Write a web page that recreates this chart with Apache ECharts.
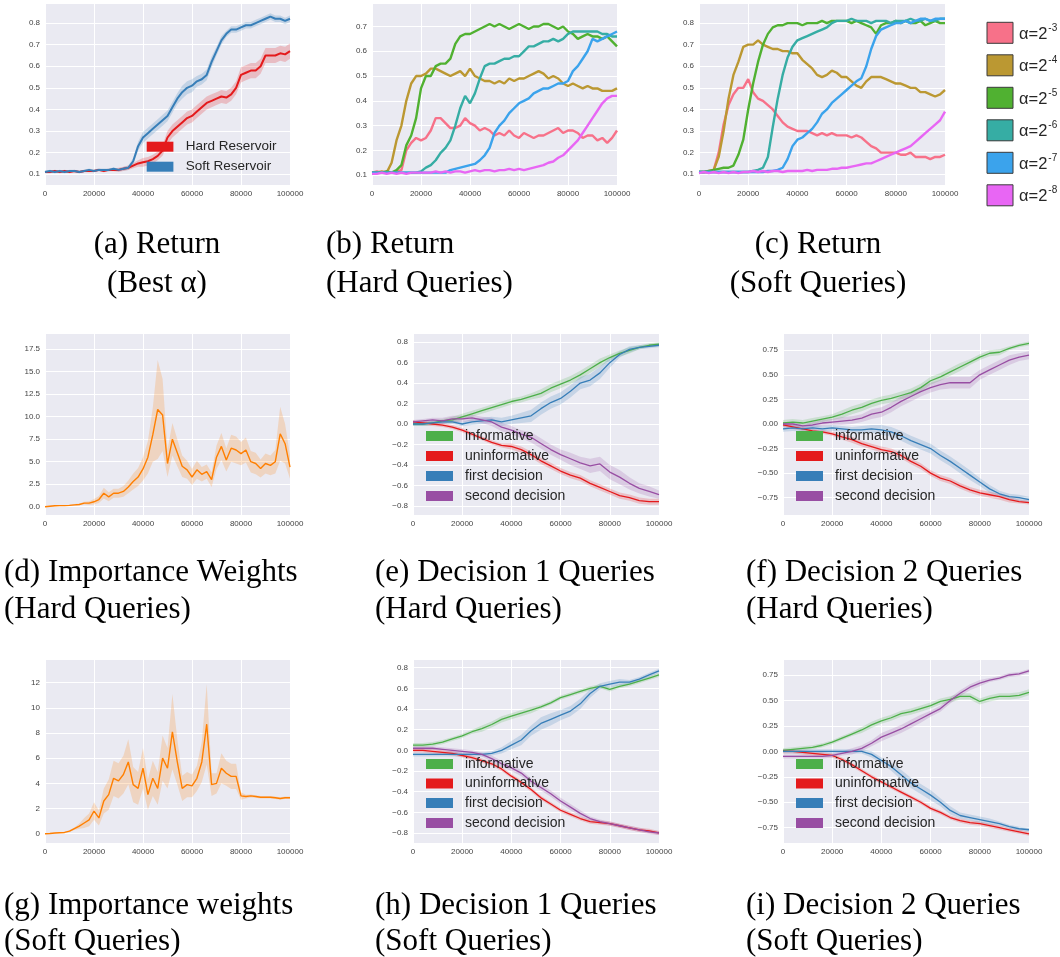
<!DOCTYPE html>
<html><head><meta charset="utf-8">
<script src="https://cdn.jsdelivr.net/npm/echarts@6/dist/echarts.min.js"></script>
<style>html,body{margin:0;padding:0;background:#fff}#c{width:1060px;height:957px}</style>
</head><body><div id="c"></div>
<script>
// ---------- x steps ----------
const stepsFine = [0,2000,4000,6000,8000,10000,12000,14000,16000,18000,20000,22000,24000,26000,28000,30000,32000,34000,36000,38000,40000,42000,44000,46000,48000,50000,52000,54000,56000,58000,60000,62000,64000,66000,68000,70000,72000,74000,76000,78000,80000,82000,84000,86000,88000,90000,92000,94000,96000,98000,100000];
const stepsCoarse = [0,4000,8000,12000,16000,20000,24000,28000,32000,36000,40000,44000,48000,52000,56000,60000,64000,68000,72000,76000,80000,84000,88000,92000,96000,100000];
const xTicks = [0,20000,40000,60000,80000,100000];

// ---------- (a) Return, best alpha ----------
const hardReservoir = [0.11,0.11,0.115,0.11,0.115,0.11,0.115,0.11,0.115,0.115,0.115,0.12,0.115,0.12,0.12,0.12,0.125,0.13,0.14,0.15,0.155,0.16,0.17,0.185,0.21,0.27,0.3,0.32,0.34,0.36,0.37,0.39,0.41,0.43,0.44,0.45,0.46,0.455,0.47,0.5,0.56,0.57,0.58,0.58,0.6,0.65,0.65,0.65,0.66,0.655,0.67];
const hardReservoirSpread = [0.006,0.006,0.006,0.006,0.006,0.006,0.006,0.006,0.006,0.006,0.006,0.006,0.006,0.006,0.006,0.01,0.01,0.01,0.012,0.015,0.02,0.02,0.02,0.02,0.025,0.03,0.03,0.03,0.03,0.03,0.03,0.03,0.03,0.03,0.03,0.03,0.03,0.03,0.03,0.03,0.035,0.035,0.035,0.035,0.035,0.035,0.035,0.035,0.035,0.035,0.035];
const softReservoir = [0.11,0.115,0.11,0.115,0.11,0.115,0.115,0.11,0.115,0.12,0.115,0.12,0.12,0.12,0.125,0.12,0.125,0.13,0.16,0.23,0.27,0.29,0.31,0.33,0.35,0.37,0.41,0.45,0.48,0.5,0.51,0.53,0.54,0.56,0.62,0.67,0.72,0.75,0.77,0.77,0.78,0.79,0.79,0.8,0.81,0.82,0.83,0.82,0.82,0.81,0.82];
const softReservoirSpread = [0.006,0.006,0.006,0.006,0.006,0.006,0.006,0.006,0.006,0.006,0.006,0.006,0.006,0.006,0.006,0.006,0.008,0.01,0.015,0.02,0.025,0.025,0.025,0.025,0.025,0.025,0.025,0.025,0.03,0.03,0.03,0.025,0.025,0.025,0.025,0.02,0.02,0.015,0.015,0.015,0.015,0.015,0.015,0.015,0.015,0.015,0.015,0.015,0.015,0.015,0.015];

// ---------- (b) Return, hard queries ----------
const hardA3 = [0.11,0.115,0.11,0.115,0.11,0.115,0.12,0.2,0.23,0.25,0.24,0.25,0.28,0.33,0.33,0.31,0.29,0.29,0.3,0.33,0.31,0.3,0.28,0.29,0.28,0.26,0.27,0.26,0.28,0.26,0.25,0.27,0.26,0.25,0.26,0.26,0.27,0.28,0.29,0.27,0.28,0.28,0.27,0.25,0.26,0.26,0.24,0.25,0.23,0.25,0.28];
const hardA4 = [0.11,0.11,0.115,0.11,0.15,0.24,0.3,0.4,0.47,0.5,0.5,0.51,0.53,0.53,0.52,0.51,0.5,0.51,0.52,0.5,0.53,0.5,0.49,0.48,0.48,0.47,0.48,0.47,0.49,0.48,0.49,0.49,0.5,0.51,0.52,0.51,0.49,0.5,0.49,0.47,0.46,0.47,0.46,0.45,0.46,0.45,0.45,0.44,0.44,0.44,0.45];
const hardA5 = [0.11,0.11,0.11,0.115,0.11,0.12,0.14,0.22,0.26,0.33,0.45,0.5,0.5,0.54,0.55,0.55,0.57,0.63,0.66,0.67,0.67,0.68,0.69,0.7,0.71,0.7,0.71,0.7,0.69,0.7,0.71,0.7,0.69,0.7,0.7,0.71,0.71,0.7,0.69,0.7,0.68,0.67,0.65,0.66,0.67,0.66,0.66,0.65,0.66,0.64,0.62];
const hardA6 = [0.11,0.11,0.11,0.11,0.11,0.11,0.11,0.11,0.11,0.11,0.115,0.13,0.14,0.16,0.19,0.21,0.24,0.3,0.37,0.42,0.39,0.43,0.49,0.54,0.55,0.55,0.56,0.57,0.57,0.58,0.58,0.6,0.62,0.62,0.63,0.64,0.64,0.65,0.64,0.65,0.67,0.68,0.68,0.68,0.68,0.68,0.68,0.67,0.67,0.66,0.66];
const hardA7 = [0.11,0.11,0.11,0.11,0.11,0.11,0.11,0.11,0.11,0.11,0.11,0.11,0.11,0.11,0.11,0.11,0.12,0.125,0.13,0.135,0.14,0.145,0.16,0.18,0.21,0.27,0.3,0.32,0.35,0.37,0.39,0.4,0.41,0.43,0.44,0.45,0.45,0.46,0.47,0.47,0.48,0.52,0.54,0.57,0.6,0.65,0.64,0.65,0.66,0.67,0.68];
const hardA8 = [0.105,0.105,0.11,0.105,0.11,0.105,0.11,0.105,0.11,0.11,0.11,0.11,0.11,0.115,0.11,0.115,0.11,0.115,0.115,0.11,0.115,0.12,0.115,0.12,0.12,0.115,0.12,0.12,0.125,0.12,0.125,0.12,0.125,0.13,0.135,0.14,0.15,0.155,0.17,0.18,0.2,0.22,0.24,0.27,0.3,0.33,0.36,0.39,0.41,0.42,0.42];

// ---------- (c) Return, soft queries ----------
const softA3 = [0.11,0.11,0.115,0.12,0.2,0.33,0.42,0.47,0.5,0.5,0.54,0.48,0.45,0.44,0.42,0.4,0.37,0.34,0.32,0.31,0.3,0.3,0.3,0.29,0.28,0.29,0.28,0.29,0.28,0.28,0.28,0.27,0.28,0.27,0.25,0.23,0.22,0.2,0.2,0.2,0.2,0.19,0.19,0.2,0.18,0.18,0.18,0.17,0.18,0.18,0.19];
const softA4 = [0.11,0.11,0.11,0.12,0.18,0.3,0.45,0.56,0.62,0.69,0.7,0.7,0.72,0.7,0.69,0.68,0.68,0.67,0.67,0.66,0.66,0.63,0.61,0.59,0.56,0.55,0.56,0.58,0.57,0.55,0.55,0.53,0.51,0.5,0.53,0.55,0.55,0.55,0.54,0.53,0.52,0.52,0.51,0.5,0.5,0.48,0.48,0.47,0.46,0.47,0.49];
const softA5 = [0.11,0.11,0.115,0.12,0.125,0.13,0.13,0.14,0.19,0.26,0.4,0.52,0.62,0.7,0.75,0.78,0.79,0.79,0.8,0.8,0.8,0.79,0.8,0.8,0.8,0.81,0.8,0.81,0.81,0.81,0.81,0.8,0.81,0.8,0.79,0.78,0.75,0.79,0.8,0.8,0.81,0.8,0.81,0.8,0.8,0.81,0.79,0.8,0.81,0.8,0.8];
const softA6 = [0.11,0.11,0.11,0.11,0.11,0.11,0.11,0.11,0.11,0.11,0.11,0.115,0.12,0.13,0.18,0.32,0.45,0.56,0.64,0.69,0.72,0.73,0.74,0.75,0.76,0.77,0.78,0.8,0.81,0.81,0.81,0.82,0.81,0.81,0.81,0.8,0.81,0.81,0.81,0.8,0.81,0.81,0.81,0.82,0.81,0.81,0.82,0.81,0.81,0.82,0.82];
const softA7 = [0.11,0.11,0.11,0.11,0.11,0.11,0.11,0.11,0.11,0.11,0.11,0.11,0.11,0.11,0.115,0.115,0.12,0.13,0.17,0.23,0.26,0.27,0.29,0.31,0.34,0.38,0.4,0.43,0.45,0.47,0.49,0.51,0.53,0.545,0.6,0.68,0.74,0.77,0.78,0.79,0.8,0.8,0.81,0.8,0.81,0.82,0.82,0.81,0.82,0.82,0.82];
const softA8 = [0.105,0.11,0.105,0.11,0.105,0.11,0.105,0.11,0.105,0.11,0.11,0.115,0.11,0.115,0.11,0.115,0.115,0.11,0.115,0.115,0.115,0.115,0.12,0.115,0.12,0.12,0.12,0.125,0.125,0.13,0.13,0.135,0.14,0.145,0.15,0.15,0.16,0.17,0.18,0.19,0.2,0.21,0.22,0.23,0.25,0.27,0.29,0.31,0.33,0.35,0.39];

// ---------- (d) Importance weights, hard ----------
const weightsHard = [0,0.05,0.1,0.12,0.12,0.15,0.2,0.25,0.4,0.4,0.55,0.8,1.5,1.1,1.5,1.5,1.7,2.2,2.8,3.3,4.2,5.5,8.0,10.8,10.2,4.8,7.5,6.0,4.5,4.1,3.3,4.1,3.6,3.9,3.0,5.5,6.7,5.2,6.5,6.3,5.9,6.3,5.0,4.8,4.25,4.8,4.6,5.0,8.1,7.0,4.4];
const weightsHardSpread = [0.05,0.05,0.05,0.05,0.05,0.08,0.1,0.1,0.15,0.2,0.3,0.4,0.6,0.5,0.5,0.5,0.6,0.7,0.9,1.0,1.3,1.8,3.0,5.5,4.0,1.5,1.8,1.5,1.2,1.0,0.9,1.0,0.8,0.8,0.8,1.3,1.5,1.3,1.5,1.5,1.3,1.4,1.2,1.2,1.0,1.1,1.1,1.3,3.0,2.2,1.3];

// ---------- (g) Importance weights, soft ----------
const weightsSoft = [0,0.02,0.05,0.08,0.1,0.2,0.4,0.6,0.85,1.1,1.8,1.25,2.6,3.1,4.4,4.2,4.7,5.7,3.9,3.6,5.2,3.1,4.4,3.6,6.0,5.2,8.1,5.7,3.6,3.9,3.8,4.4,5.7,8.7,3.9,4.0,5.2,4.8,4.55,4.55,3.0,2.95,3.0,2.95,2.9,2.9,2.9,2.85,2.8,2.85,2.85];
const weightsSoftSpread = [0.02,0.02,0.03,0.03,0.05,0.08,0.1,0.2,0.4,0.5,0.7,0.6,1.0,1.2,1.4,1.4,1.5,1.8,1.4,1.3,1.6,1.2,1.4,1.3,1.8,1.6,3.0,1.8,1.0,1.0,0.9,1.0,1.6,3.2,0.9,0.8,1.2,1.0,1.0,1.0,0.3,0.15,0.12,0.1,0.1,0.1,0.1,0.1,0.1,0.1,0.1];

// ---------- (e) Decision 1, hard ----------
const eInformative = [0.0,0.0,0.01,0.03,0.04,0.07,0.1,0.13,0.16,0.19,0.22,0.24,0.27,0.3,0.35,0.39,0.43,0.48,0.54,0.6,0.65,0.69,0.72,0.75,0.77,0.78];
const eUninformative = [0.02,0.01,0.0,-0.01,-0.03,-0.06,-0.1,-0.14,-0.18,-0.21,-0.22,-0.25,-0.3,-0.36,-0.41,-0.46,-0.5,-0.53,-0.58,-0.62,-0.66,-0.7,-0.72,-0.75,-0.76,-0.76];
const eFirst = [0.0,0.0,0.01,0.02,0.02,0.0,0.02,0.03,0.04,0.02,0.04,0.06,0.08,0.15,0.21,0.25,0.32,0.4,0.43,0.5,0.6,0.68,0.73,0.75,0.76,0.77];
const eSecond = [0.02,0.03,0.04,0.03,0.05,0.05,0.06,0.04,0.02,-0.03,-0.06,-0.1,-0.13,-0.19,-0.25,-0.3,-0.34,-0.38,-0.41,-0.39,-0.47,-0.52,-0.58,-0.63,-0.66,-0.69];
const eInformativeSpread = [0.02,0.02,0.02,0.02,0.03,0.03,0.03,0.03,0.03,0.03,0.03,0.03,0.03,0.04,0.04,0.04,0.04,0.04,0.04,0.04,0.03,0.03,0.03,0.02,0.02,0.02];
const eUninformativeSpread = [0.02,0.02,0.02,0.02,0.02,0.02,0.02,0.02,0.02,0.02,0.03,0.03,0.03,0.03,0.03,0.03,0.03,0.03,0.03,0.03,0.03,0.03,0.03,0.03,0.03,0.03];
const eFirstSpread = [0.02,0.02,0.02,0.02,0.02,0.02,0.03,0.03,0.03,0.04,0.04,0.05,0.06,0.06,0.06,0.06,0.06,0.06,0.06,0.06,0.05,0.03,0.03,0.02,0.02,0.02];
const eSecondSpread = [0.02,0.02,0.02,0.03,0.03,0.03,0.03,0.03,0.04,0.04,0.04,0.04,0.05,0.05,0.05,0.05,0.06,0.06,0.07,0.07,0.07,0.07,0.06,0.05,0.05,0.04];

// ---------- (f) Decision 2, hard ----------
const fInformative = [0.01,0.02,0.01,0.03,0.05,0.07,0.1,0.14,0.17,0.21,0.24,0.26,0.29,0.32,0.37,0.44,0.48,0.53,0.58,0.63,0.68,0.72,0.73,0.77,0.8,0.82];
const fUninformative = [-0.01,-0.03,-0.05,-0.07,-0.08,-0.1,-0.13,-0.16,-0.2,-0.23,-0.26,-0.28,-0.32,-0.38,-0.43,-0.5,-0.55,-0.58,-0.63,-0.67,-0.7,-0.72,-0.74,-0.77,-0.79,-0.8];
const fFirst = [-0.05,-0.04,-0.05,-0.04,-0.05,-0.04,-0.05,-0.06,-0.06,-0.05,-0.06,-0.08,-0.12,-0.17,-0.21,-0.25,-0.32,-0.38,-0.45,-0.52,-0.59,-0.66,-0.71,-0.74,-0.75,-0.77];
const fSecond = [0.0,0.0,-0.02,-0.01,0.01,0.02,0.03,0.04,0.06,0.1,0.12,0.17,0.23,0.28,0.33,0.37,0.4,0.42,0.42,0.42,0.5,0.55,0.6,0.65,0.68,0.7];
const fInformativeSpread = [0.03,0.03,0.03,0.03,0.03,0.03,0.04,0.04,0.04,0.04,0.04,0.04,0.04,0.04,0.04,0.04,0.04,0.04,0.04,0.03,0.03,0.03,0.03,0.02,0.02,0.02];
const fUninformativeSpread = [0.02,0.02,0.02,0.02,0.02,0.02,0.03,0.03,0.03,0.03,0.03,0.03,0.03,0.03,0.03,0.03,0.03,0.03,0.03,0.03,0.03,0.03,0.03,0.03,0.02,0.02];
const fFirstSpread = [0.03,0.03,0.03,0.03,0.03,0.03,0.03,0.03,0.04,0.04,0.05,0.05,0.05,0.05,0.05,0.05,0.05,0.05,0.05,0.05,0.04,0.04,0.03,0.03,0.03,0.03];
const fSecondSpread = [0.02,0.02,0.02,0.03,0.03,0.03,0.04,0.04,0.04,0.05,0.05,0.05,0.05,0.05,0.05,0.05,0.05,0.06,0.06,0.06,0.05,0.05,0.05,0.05,0.04,0.04];

// ---------- (h) Decision 1, soft ----------
const hInformative = [0.05,0.05,0.06,0.08,0.11,0.14,0.18,0.21,0.25,0.3,0.33,0.36,0.39,0.42,0.46,0.51,0.54,0.57,0.6,0.62,0.59,0.62,0.64,0.67,0.7,0.73];
const hUninformative = [0.0,0.0,-0.01,-0.02,-0.03,-0.05,-0.07,-0.1,-0.13,-0.18,-0.25,-0.31,-0.38,-0.46,-0.52,-0.58,-0.62,-0.66,-0.69,-0.7,-0.71,-0.73,-0.75,-0.77,-0.78,-0.8];
const hFirst = [-0.04,-0.04,-0.04,-0.04,-0.04,-0.04,-0.04,-0.04,-0.03,0.0,0.05,0.1,0.19,0.26,0.3,0.34,0.38,0.45,0.55,0.62,0.64,0.66,0.66,0.69,0.73,0.77];
const hSecond = [0.02,0.02,0.02,0.01,0.0,-0.01,-0.02,-0.04,-0.08,-0.13,-0.17,-0.22,-0.3,-0.36,-0.42,-0.49,-0.55,-0.61,-0.66,-0.69,-0.71,-0.73,-0.75,-0.77,-0.79,-0.8];
const hInformativeSpread = [0.02,0.02,0.02,0.02,0.02,0.02,0.02,0.03,0.03,0.03,0.03,0.03,0.03,0.02,0.02,0.02,0.02,0.02,0.02,0.02,0.02,0.02,0.02,0.02,0.02,0.02];
const hUninformativeSpread = [0.02,0.02,0.02,0.02,0.02,0.02,0.02,0.02,0.02,0.02,0.02,0.02,0.02,0.02,0.02,0.02,0.02,0.02,0.02,0.02,0.02,0.02,0.02,0.02,0.02,0.02];
const hFirstSpread = [0.02,0.02,0.02,0.02,0.02,0.02,0.02,0.02,0.02,0.03,0.04,0.05,0.05,0.06,0.06,0.05,0.05,0.05,0.04,0.03,0.03,0.03,0.02,0.02,0.02,0.02];
const hSecondSpread = [0.02,0.02,0.02,0.02,0.02,0.02,0.02,0.02,0.03,0.03,0.03,0.03,0.03,0.03,0.03,0.03,0.03,0.03,0.02,0.02,0.02,0.02,0.02,0.02,0.02,0.02];

// ---------- (i) Decision 2, soft ----------
const iInformative = [0.01,0.02,0.03,0.04,0.06,0.09,0.13,0.17,0.21,0.26,0.3,0.33,0.37,0.39,0.42,0.45,0.49,0.51,0.54,0.54,0.49,0.52,0.54,0.54,0.55,0.58];
const iUninformative = [0.0,0.0,-0.01,-0.02,-0.03,-0.04,-0.08,-0.13,-0.19,-0.25,-0.3,-0.35,-0.4,-0.45,-0.5,-0.56,-0.6,-0.65,-0.68,-0.7,-0.71,-0.73,-0.75,-0.77,-0.79,-0.81];
const iFirst = [0.0,0.0,0.0,0.0,0.0,0.0,0.0,0.0,0.0,-0.03,-0.09,-0.15,-0.23,-0.31,-0.37,-0.43,-0.5,-0.58,-0.63,-0.65,-0.67,-0.69,-0.71,-0.74,-0.76,-0.77];
const iSecond = [-0.05,-0.05,-0.05,-0.05,-0.05,-0.04,-0.02,0.0,0.03,0.08,0.14,0.18,0.22,0.27,0.32,0.37,0.42,0.5,0.57,0.63,0.67,0.7,0.72,0.75,0.76,0.79];
const iInformativeSpread = [0.02,0.02,0.02,0.02,0.02,0.02,0.02,0.02,0.03,0.03,0.03,0.03,0.03,0.03,0.03,0.03,0.03,0.03,0.03,0.03,0.03,0.03,0.03,0.03,0.03,0.03];
const iUninformativeSpread = [0.02,0.02,0.02,0.02,0.02,0.02,0.02,0.02,0.02,0.02,0.02,0.02,0.02,0.02,0.02,0.02,0.02,0.02,0.02,0.02,0.02,0.02,0.02,0.02,0.02,0.02];
const iFirstSpread = [0.02,0.02,0.02,0.02,0.02,0.02,0.02,0.02,0.02,0.03,0.03,0.04,0.05,0.05,0.05,0.05,0.04,0.04,0.03,0.03,0.03,0.03,0.02,0.02,0.02,0.02];
const iSecondSpread = [0.02,0.02,0.02,0.02,0.02,0.02,0.02,0.03,0.03,0.03,0.04,0.04,0.04,0.04,0.04,0.03,0.03,0.03,0.03,0.03,0.03,0.02,0.02,0.02,0.02,0.02];

// ---------- labels ----------
const reservoirNames = ['Hard Reservoir','Soft Reservoir'];
const alphaExponents = ['-3','-4','-5','-6','-7','-8'];
const decisionNames = ['informative','uninformative','first decision','second decision'];
const captions = [
  ['(a) Return','(Best α)'], ['(b) Return','(Hard Queries)'], ['(c) Return','(Soft Queries)'],
  ['(d) Importance Weights','(Hard Queries)'], ['(e) Decision 1 Queries','(Hard Queries)'], ['(f) Decision 2 Queries','(Hard Queries)'],
  ['(g) Importance weights','(Soft Queries)'], ['(h) Decision 1 Queries','(Soft Queries)'], ['(i) Decision 2 Queries','(Soft Queries)']
];

// ---------- styling / layout ----------
const SET1 = {red:'#E41A1C', blue:'#377EB8', green:'#4DAF4A', purple:'#984EA3', orange:'#FF7F00'};
const HUSL = ['#f77189','#bb9832','#50b131','#36ada4','#3ba3ec','#e866f4'];
const DEC_COLORS = [SET1.green, SET1.red, SET1.blue, SET1.purple];
const SANS = '"Liberation Sans", Arial, sans-serif';
const SERIF = '"Liberation Serif", "Times New Roman", serif';

// [left, top, width, height, yMin, yMax, yStep, decimals]
const panels = [
  [45, 3, 245, 182, 0.05, 0.893, 0.1, 1],
  [372, 3, 245, 182, 0.06, 0.795, 0.1, 1],
  [699, 3, 246, 182, 0.05, 0.893, 0.1, 1],
  [45, 333, 245, 182, -0.92, 19.3, 2.5, 1],
  [413, 333, 246, 182, -0.89, 0.89, 0.2, 1],
  [783, 333, 246, 182, -0.926, 0.926, 0.25, 2],
  [45, 659, 245, 184, -0.74, 13.88, 2, 0],
  [413, 659, 246, 184, -0.897, 0.884, 0.2, 1],
  [783, 659, 246, 184, -0.90, 0.907, 0.25, 2]
];

const grids = [], xAxes = [], yAxes = [], series = [], graphics = [];
panels.forEach((p, gi) => {
  const [l, t, w, h, ymin, ymax, step, dec] = p;
  grids.push({left:l, top:t, width:w, height:h, show:true, backgroundColor:'#EAEAF2', borderWidth:0, containLabel:false, outerBoundsMode:'none'});
  xAxes.push({type:'value', gridIndex:gi, min:0, max:100000, interval:20000,
    axisLine:{show:false}, axisTick:{show:false},
    splitLine:{show:true, lineStyle:{color:'#ffffff', width:1}},
    axisLabel:{fontSize:8, color:'#444', fontFamily:SANS, margin:5, formatter:v => String(v)}});
  yAxes.push({type:'value', gridIndex:gi, min:ymin, max:ymax, minInterval:step, maxInterval:step,
    axisLine:{show:false}, axisTick:{show:false},
    splitLine:{show:true, lineStyle:{color:'#ffffff', width:1}},
    axisLabel:{fontSize:8, color:'#444', fontFamily:SANS, margin:5,
      formatter:v => { const k = v/step; if (Math.abs(k-Math.round(k))>1e-6) return ''; const s = (Math.round(k)*step).toFixed(dec); return s.replace('-', '\u2212'); }}});
});

function band(gi, xs, ys, sp, color, op) {
  series.push({type:'custom', xAxisIndex:gi, yAxisIndex:gi, silent:true, z:1, clip:true, animation:false,
    data:[[xs[0], ys[0]]],
    renderItem:(params, api) => {
      const up = [], lo = [];
      for (let i=0;i<xs.length;i++){ up.push(api.coord([xs[i], ys[i]+sp[i]])); lo.push(api.coord([xs[i], ys[i]-sp[i]])); }
      return {type:'polygon', shape:{points:up.concat(lo.reverse())}, style:{fill:color, opacity:op}};
    }});
}
function line(gi, name, xs, ys, color, width) {
  series.push({type:'line', name, xAxisIndex:gi, yAxisIndex:gi, data:xs.map((x,i)=>[x, ys[i]]),
    showSymbol:false, symbol:'none', z:3, animation:false, silent:true,
    lineStyle:{color, width}, itemStyle:{color}});
}

// (a)
band(0, stepsFine, hardReservoir, hardReservoirSpread, SET1.red, 0.22);
band(0, stepsFine, softReservoir, softReservoirSpread, SET1.blue, 0.22);
line(0, reservoirNames[0], stepsFine, hardReservoir, SET1.red, 2);
line(0, reservoirNames[1], stepsFine, softReservoir, SET1.blue, 2);
// (b)
[hardA3, hardA4, hardA5, hardA6, hardA7, hardA8].forEach((ys, k) => line(1, 'α=2'+alphaExponents[k], stepsFine, ys, HUSL[k], 2.4));
// (c)
[softA3, softA4, softA5, softA6, softA7, softA8].forEach((ys, k) => line(2, 'α=2'+alphaExponents[k], stepsFine, ys, HUSL[k], 2.4));
// (d), (g)
band(3, stepsFine, weightsHard, weightsHardSpread, SET1.orange, 0.2);
line(3, 'weights', stepsFine, weightsHard, SET1.orange, 1.4);
band(6, stepsFine, weightsSoft, weightsSoftSpread, SET1.orange, 0.2);
line(6, 'weights', stepsFine, weightsSoft, SET1.orange, 1.4);
// decisions
const decisionSets = [
  [4, [eInformative,eUninformative,eFirst,eSecond], [eInformativeSpread,eUninformativeSpread,eFirstSpread,eSecondSpread]],
  [5, [fInformative,fUninformative,fFirst,fSecond], [fInformativeSpread,fUninformativeSpread,fFirstSpread,fSecondSpread]],
  [7, [hInformative,hUninformative,hFirst,hSecond], [hInformativeSpread,hUninformativeSpread,hFirstSpread,hSecondSpread]],
  [8, [iInformative,iUninformative,iFirst,iSecond], [iInformativeSpread,iUninformativeSpread,iFirstSpread,iSecondSpread]]
];
decisionSets.forEach(([gi, lines, spreads]) => {
  lines.forEach((ys, k) => band(gi, stepsCoarse, ys, spreads[k], DEC_COLORS[k], 0.2));
  lines.forEach((ys, k) => line(gi, decisionNames[k], stepsCoarse, ys, DEC_COLORS[k], 1.3));
});

// ---------- legends (graphic) ----------
function txt(x, y, text, font, align, extra) {
  graphics.push(Object.assign({type:'text', x, y, z:100, silent:true,
    style:{text, font, fill:'#262626', textAlign:align||'left', textVerticalAlign:'middle', align:align||'left', verticalAlign:'middle'}}, extra||{}));
}
function box(x, y, w, h, color, stroke) {
  graphics.push({type:'rect', z:100, silent:true, shape:{x, y, width:w, height:h},
    style:{fill:color, stroke:stroke||null, lineWidth:stroke?1:0}});
}
// (a) legend
[SET1.red, SET1.blue].forEach((c, k) => {
  box(146.7, 141.7 + k*20, 26.7, 10, c);
  txt(185.7, 146.7 + k*20, reservoirNames[k], '13.5px ' + SANS);
});
// alpha legend
alphaExponents.forEach((e, k) => {
  const y0 = 22.3 + k*32.5;
  box(987, y0, 26, 21, HUSL[k], '#3a3a3a');
  graphics.push({type:'text', x:1019, y:y0+10.5, z:100, silent:true,
    style:{text:'{b|α=2}{s|' + e + '}', textVerticalAlign:'middle', verticalAlign:'middle', fill:'#262626',
      rich:{b:{fontSize:16.5, fontFamily:SANS, fill:'#262626', lineHeight:20, verticalAlign:'bottom'},
            s:{fontSize:10, fontFamily:SANS, fill:'#262626', lineHeight:20, verticalAlign:'top', padding:[0,0,0,1]}}}});
});
// decision legends
[[426, 465, [436, 456, 476, 496]], [796, 835, [436, 456, 476, 496]],
 [426, 465, [764, 783.5, 803, 823]], [796, 835, [764, 783.5, 803, 823]]].forEach(([bx, tx, ys]) => {
  ys.forEach((yc, k) => {
    box(bx, yc-5, 27, 10, DEC_COLORS[k]);
    txt(tx, yc, decisionNames[k], '14px ' + SANS);
  });
});

// ---------- captions ----------
const CAP_FONT = '31px ' + SERIF;
const capPos = [
  [157,'center',245,284],[326,'left',245,284],[818,'center',245,284],
  [4,'left',573,610],[375,'left',573,610],[746,'left',573,610],
  [4,'left',906,942],[375,'left',906,942],[746,'left',906,942]
];
captions.forEach((c, k) => {
  const [x, al, y1, y2] = capPos[k];
  graphics.push({type:'text', x, y:y1, z:100, silent:true, style:{text:c[0], font:CAP_FONT, fill:'#000', textAlign:al, textVerticalAlign:'middle', align:al, verticalAlign:'middle'}});
  graphics.push({type:'text', x, y:y2, z:100, silent:true, style:{text:c[1], font:CAP_FONT, fill:'#000', textAlign:al, textVerticalAlign:'middle', align:al, verticalAlign:'middle'}});
});

const chart = echarts.init(document.getElementById('c'), null, {renderer:'canvas'});
chart.setOption({
  animation:false,
  backgroundColor:'#ffffff',
  grid:grids, xAxis:xAxes, yAxis:yAxes, series,
  graphic:{elements:graphics}
});
</script></body></html>
